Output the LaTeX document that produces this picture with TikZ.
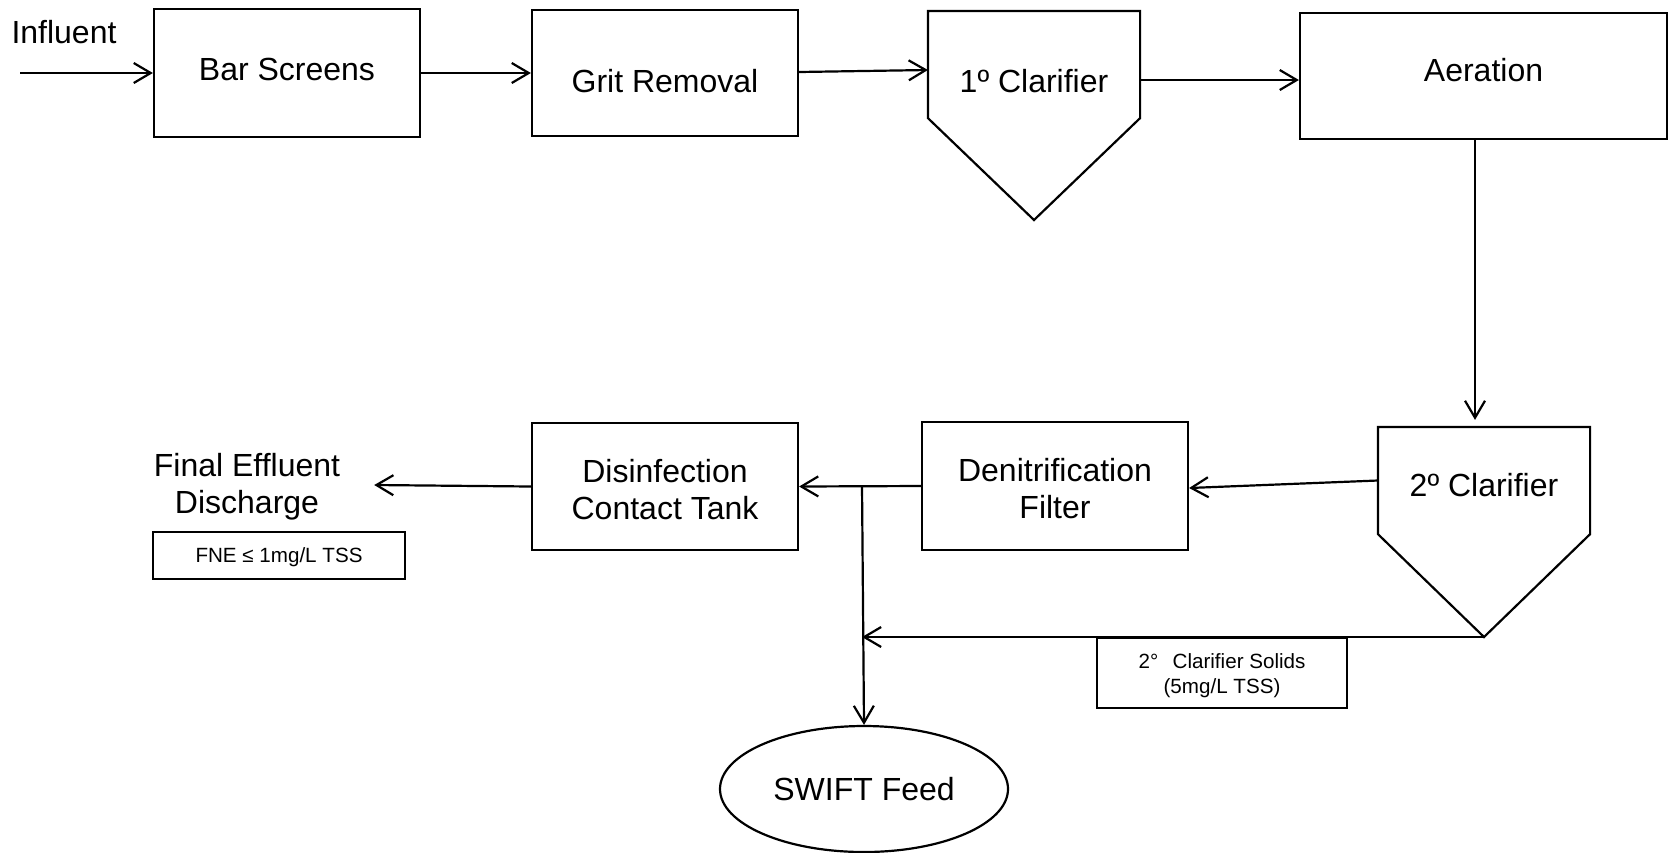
\documentclass[tikz,border=0pt]{standalone}
\usepackage{fontspec}
\setmainfont{Liberation Sans}
\usetikzlibrary{arrows.meta,shapes.geometric,calc}
\begin{document}
\begin{tikzpicture}[x=0.5pt,y=-0.5pt,
  line width=1.1pt,
  every node/.style={font=\fontsize{16}{18.5}\selectfont},
  box/.style={draw,line width=1.1pt,minimum width=133pt,minimum height=63pt,inner sep=0pt,align=center},
  ghost/.style={minimum width=105pt,minimum height=52.5pt,inner sep=0pt},
  small/.style={font=\fontsize{10.3}{12.5}\selectfont},
  arr/.style={-{Straight Barb[length=8.5pt,width=10pt,line width=1.1pt]}},
]
\useasboundingbox (0,0) rectangle (1668,852);
% nodes
\node (inf) at (64,32) {Influent};
\node[box,minimum height=64pt,label={[yshift=1.75pt]center:Bar Screens}] (bar) at (287,73) {};
\node[box,label={[yshift=-4pt]center:Grit Removal}] (grit) at (665,73) {};
\node[ghost] (c1) at (1034,64.5) {};
\node (c1t) at (1034,81) {1º Clarifier};
\coordinate (c1p) at (1034,220);
\draw (c1.south west) -- (c1.north west) -- (c1.north east) -- (c1.south east) -- (c1p) -- cycle;
\node[box,minimum width=183.5pt,label={[yshift=3pt]center:Aeration}] (aer) at (1483.5,76) {};
\node[ghost,label={[yshift=-2.25pt]center:2º Clarifier}] (c2) at (1484,480.5) {};
\coordinate (c2p) at (1484,637);
\draw (c2.south west) -- (c2.north west) -- (c2.north east) -- (c2.south east) -- (c2p) -- cycle;
\node[box,minimum height=64pt,label={[yshift=-1.5pt,align=center]center:Denitrification\\Filter}] (den) at (1055,486) {};
\node[box,minimum height=63.5pt,label={[yshift=-1.75pt,align=center]center:Disinfection\\Contact Tank}] (dis) at (665,486.5) {};
\node[inner sep=0pt,align=center] (fed) at (247,487) {Final Effluent\\Discharge};
\node[draw,small,minimum width=126pt,minimum height=23.5pt,inner sep=0pt,text depth=0pt] (fne) at (279,555.5) {FNE ≤ 1mg/L TSS};
\node[draw,small,align=center,minimum width=125pt,minimum height=35pt,inner sep=0pt,label={[small,yshift=-1.5pt,align=center]center:2°\hspace{0.7em}Clarifier Solids\\(5mg/L TSS)}] (sol) at (1222,673) {};
\node[ellipse,draw,minimum width=144pt,minimum height=63pt,inner sep=0pt] (sw) at (864,789) {SWIFT Feed};
% connectors
\coordinate (inS) at (20,73);
\draw[arr] (inS) -- (bar.west);
\draw[arr] (bar.east) -- (grit.west);
\draw[arr] ([yshift=0.5pt]grit.east) -- ([yshift=-2.75pt]c1.west);
\coordinate (c1o) at ([yshift=-7.75pt]c1.east);
\draw[arr] (c1o) -- (c1o -| aer.west);
\draw[arr] ([xshift=-4.25pt]aer.south) -- ([xshift=-4.5pt,yshift=3.5pt]c2.north);
\draw[arr] (c2.west) -- ([yshift=-1pt]den.east);
\coordinate (j) at (862,486);
\draw[arr] (den.west) -- (dis.east);
\draw[arr] (j) -- (sw.north);
\draw[arr] (c2p) -- (c2p -| j);
\draw[arr] (dis.west) -- ([xshift=16.5pt,yshift=1pt]fed.east);
\end{tikzpicture}
\end{document}
